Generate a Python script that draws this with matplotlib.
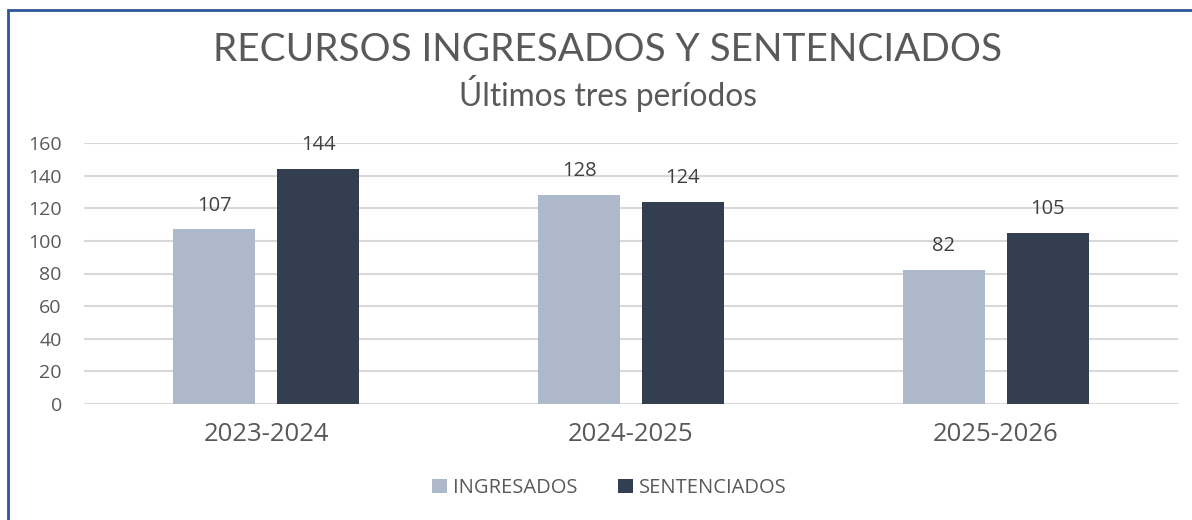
import numpy as np
import matplotlib.pyplot as plt
from matplotlib.patches import Rectangle

periodos = ["2023-2024", "2024-2025", "2025-2026"]
ingresados = [107, 128, 82]
sentenciados = [144, 124, 105]

col_ing = "#ADB9CA"
col_sen = "#333F50"
gris = "#595959"

plt.rcParams['font.family'] = ['Open Sans', 'DejaVu Sans']

fig = plt.figure(figsize=(11.92, 5.2), dpi=100)
ax = fig.add_axes([84 / 1192, 1 - 404 / 520, (1178 - 84) / 1192, (404 - 143) / 520])

x = np.arange(len(periodos))
w = 0.225
off = 0.1425
b1 = ax.bar(x - off, ingresados, w, color=col_ing, label="INGRESADOS", zorder=3)
b2 = ax.bar(x + off, sentenciados, w, color=col_sen, label="SENTENCIADOS", zorder=3)

for bars in (b1, b2):
    for r in bars:
        ax.annotate(str(int(r.get_height())), (r.get_x() + r.get_width() / 2, r.get_height()),
                    xytext=(0, 10), textcoords="offset points", ha="center", va="bottom",
                    fontsize=14.5, color="#404040")

ax.set_xlim(-0.5, 2.5)
ax.set_ylim(0, 160)
ax.set_yticks(range(0, 161, 20))
ax.set_xticks(x)
ax.set_xticklabels(periodos, fontsize=18.5, color=gris)
ax.tick_params(axis="y", labelsize=14, colors=gris, length=0, pad=16)
ax.tick_params(axis="x", length=0, pad=13)
ax.grid(axis="y", color="#D9D9D9", linewidth=1.5, zorder=0)
for s in ax.spines.values():
    s.set_visible(False)

fig.text(0.51, 1 - 50 / 520, "RECURSOS INGRESADOS Y SENTENCIADOS", ha="center", va="center",
         fontsize=27.9, color=gris, family=['Lato', 'DejaVu Sans'])
fig.text(0.51, 1 - 93 / 520, "Últimos tres períodos", ha="center", va="center",
         fontsize=22.8, color=gris, family=['Lato', 'DejaVu Sans'])

leg = fig.legend(handles=[b1, b2], loc="center", bbox_to_anchor=(0.511, 1 - 488 / 520), ncol=2,
                 frameon=False, fontsize=14.5, handlelength=0.75, handleheight=0.75,
                 columnspacing=2.0, handletextpad=0.3)
for t in leg.get_texts():
    t.set_color(gris)

# marco azul del gráfico
fig.patches.append(Rectangle((8 / 1192, -0.05), 1.2, 1 - 10 / 520 + 0.05, transform=fig.transFigure,
                             fill=False, edgecolor="#2F5597", linewidth=2))

fig.savefig("out.png", dpi=100)
